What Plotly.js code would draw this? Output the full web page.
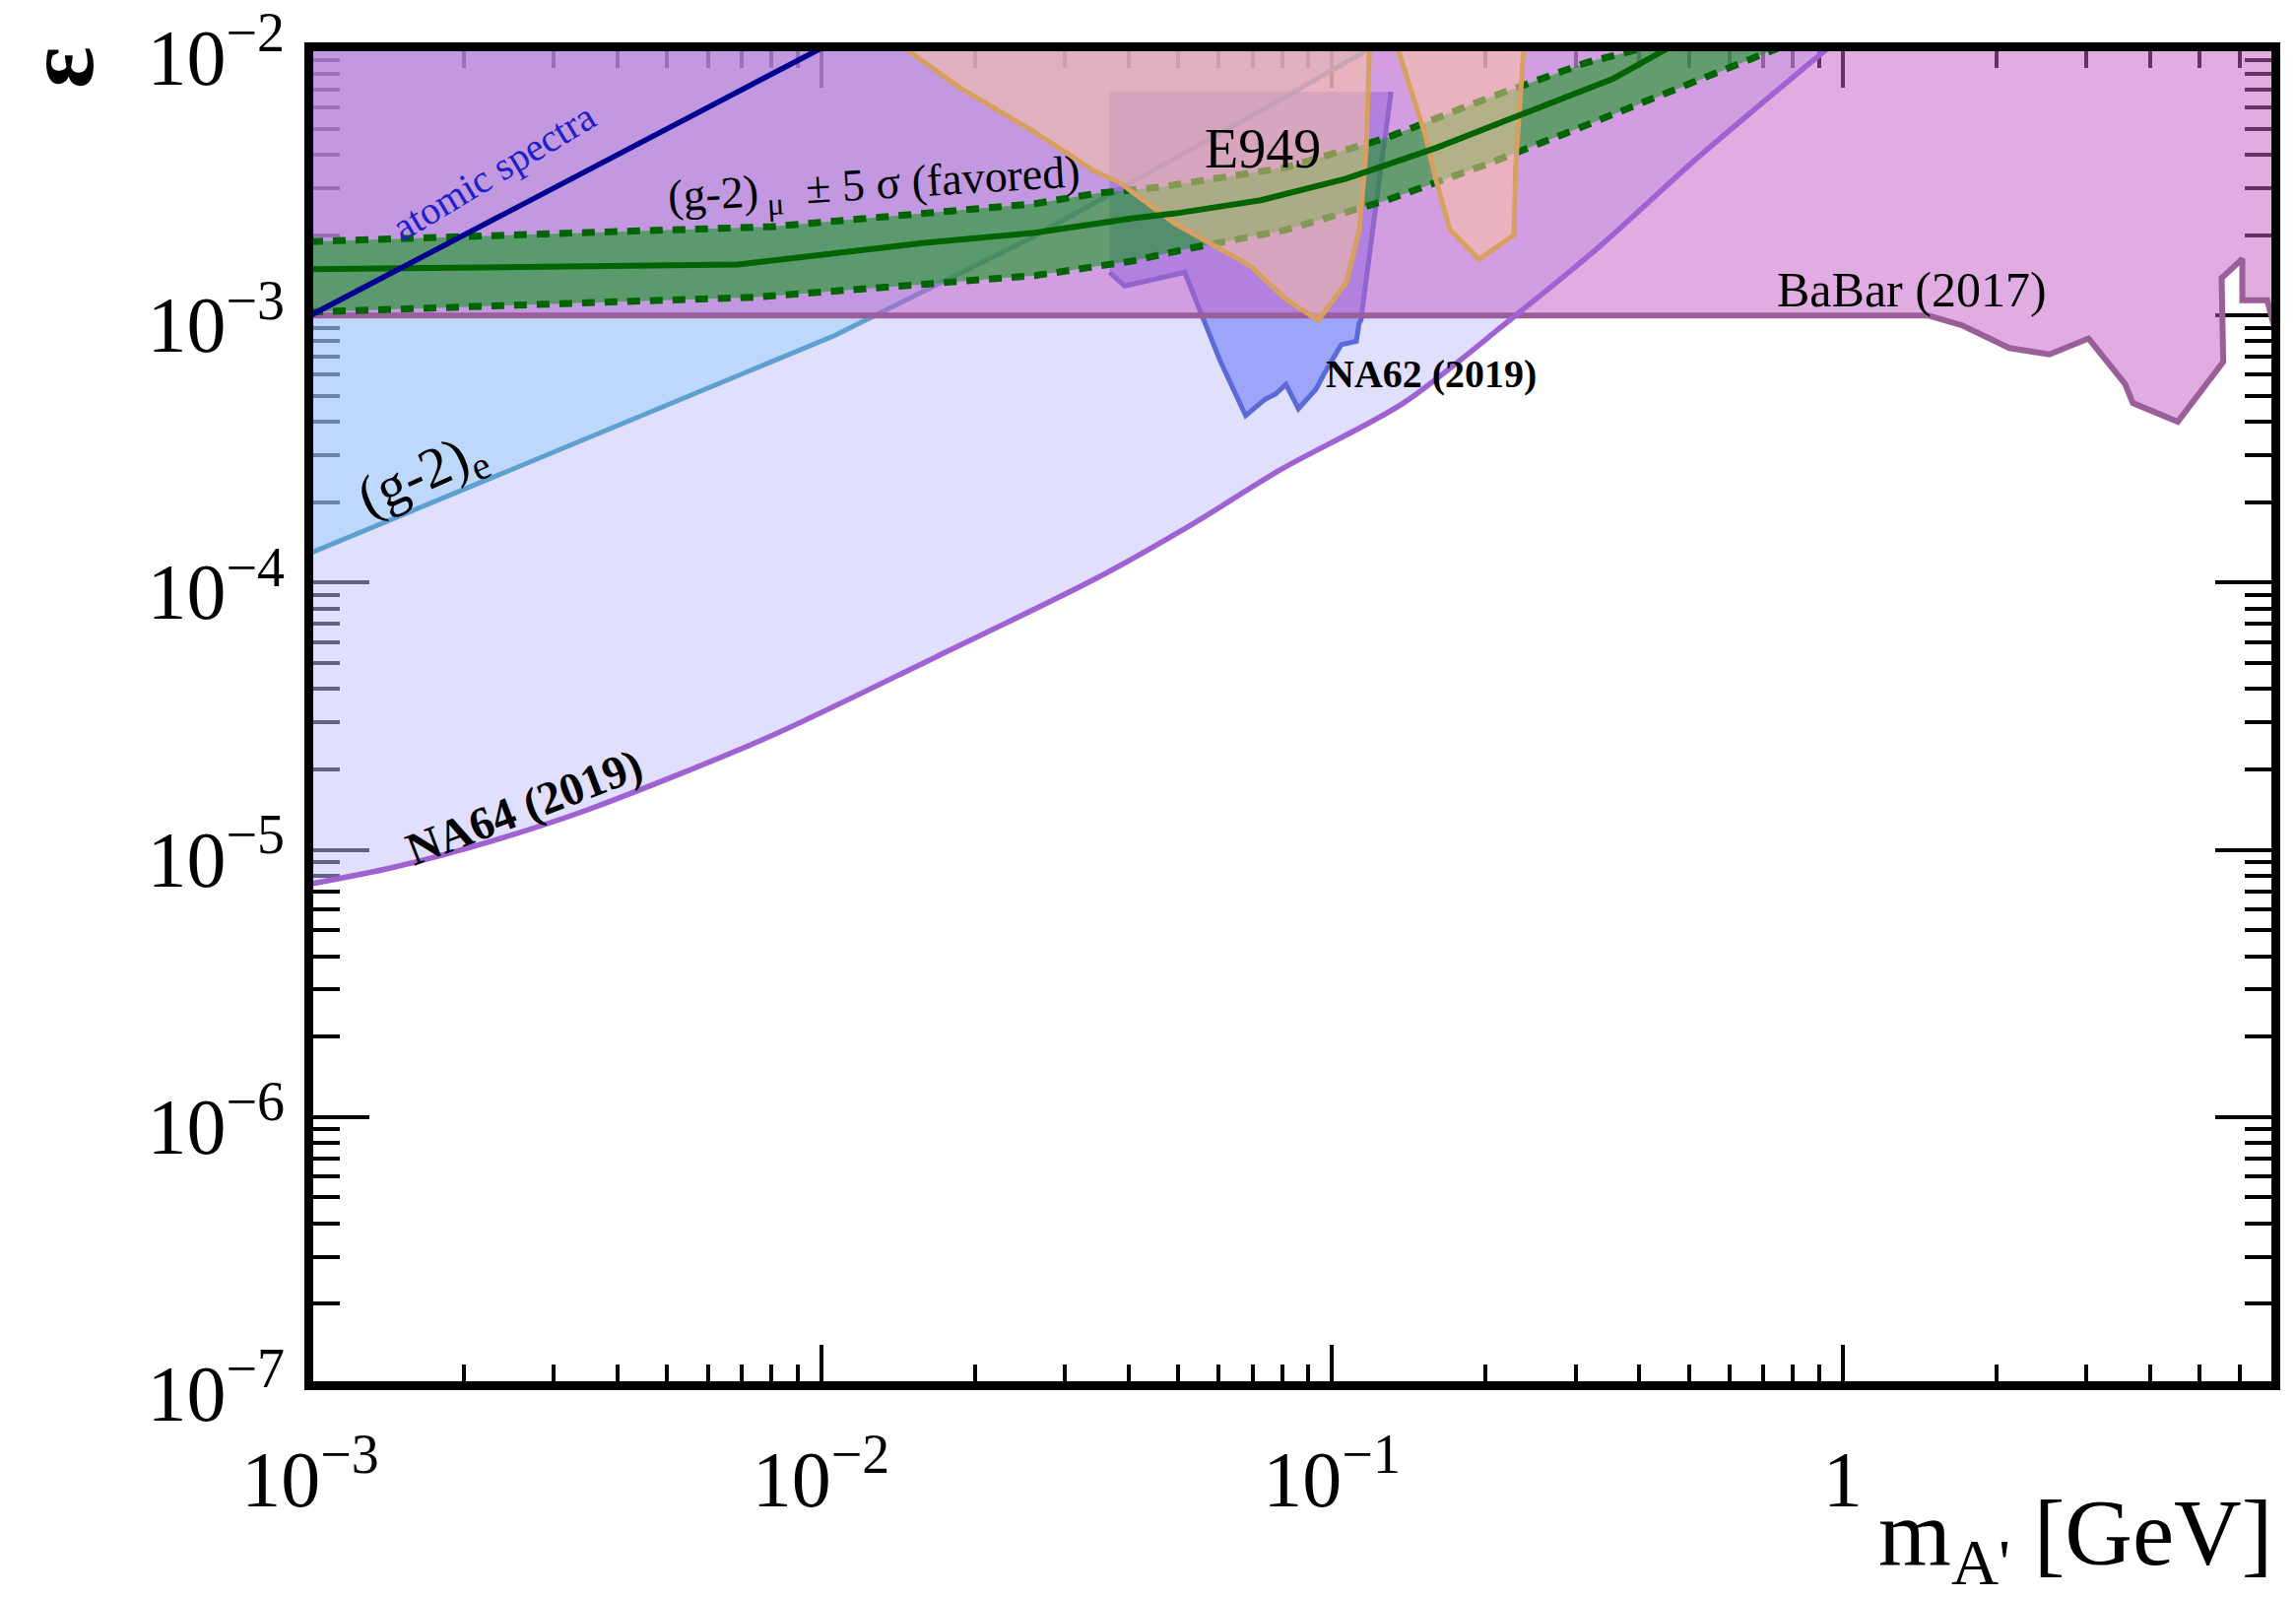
<!DOCTYPE html>
<html>
<head>
<meta charset="utf-8">
<script src="https://cdn.plot.ly/plotly-3.0.1.min.js"></script>
<style>html,body{margin:0;padding:0;background:#fff;}#chart{width:2331px;height:1622px;}</style>
</head>
<body>
<div id="chart"></div>
<script>
// ---------- axis limits ----------
const X_MIN = 1e-3, X_MAX = 7.0, Y_MIN = 1e-7, Y_MAX = 1e-2;

// ---------- NA64 (2019) lower limit ----------
const na64Mass = [0.001, 0.001457, 0.00227, 0.003554, 0.00788, 0.01653, 0.03464, 0.054, 0.0794, 0.1373, 0.2207, 0.334, 0.5205, 0.765, 0.935];
const na64Eps  = [7.45e-6, 8.61e-6, 1.08e-5, 1.43e-5, 2.64e-5, 5.2e-5, 1.04e-4, 1.68e-4, 2.65e-4, 4.67e-4, 9.46e-4, 1.81e-3, 3.9e-3, 7.27e-3, 1e-2];

// ---------- (g-2)_e ----------
const ge2Mass = [0.001, 0.01064, 0.0261, 0.076, 0.119];
const ge2Eps  = [1.29e-4, 8.42e-4, 1.975e-3, 6.13e-3, 1e-2];

// ---------- NA62 (2019) ----------
const na62Mass = [0.0367, 0.0367, 0.0393, 0.0515, 0.0553, 0.0605, 0.0678, 0.0709, 0.0742, 0.0776, 0.0813, 0.0860, 0.0931, 0.0964, 0.1043, 0.1117, 0.1130, 0.1140, 0.1167, 0.1250, 0.1306];
const na62Eps  = [6.87e-3, 1.45e-3, 1.29e-3, 1.45e-3, 1.03e-3, 6.73e-4, 4.22e-4, 4.54e-4, 4.87e-4, 5.08e-4, 5.52e-4, 4.48e-4, 5.3e-4, 6.02e-4, 7.77e-4, 8.0e-4, 9.3e-4, 9.6e-4, 1.37e-3, 3.69e-3, 6.87e-3];

// ---------- BaBar (2017) lower edge ----------
const babarMass = [0.001, 1.47, 1.71, 2.12, 2.54, 3.03, 3.57, 3.70, 4.53, 5.56, 5.52, 6.06, 6.06, 6.78, 7.0];
const babarEps  = [1e-3, 1e-3, 9.2e-4, 7.55e-4, 7.15e-4, 8.2e-4, 5.55e-4, 4.7e-4, 4.0e-4, 6.7e-4, 1.38e-3, 1.63e-3, 1.14e-3, 1.14e-3, 9.0e-4];

// ---------- E949 ----------
const e949aMass = [0.0146, 0.0186, 0.0261, 0.0342, 0.0385, 0.0493, 0.0693, 0.0813, 0.094, 0.1068, 0.1132, 0.1167, 0.1185];
const e949aEps  = [1e-2, 7.16e-3, 4.87e-3, 3.48e-3, 3.13e-3, 2.21e-3, 1.53e-3, 1.15e-3, 9.6e-4, 1.33e-3, 2.09e-3, 4.13e-3, 1e-2];
const e949bMass = [0.1345, 0.1523, 0.1593, 0.1703, 0.194, 0.2273, 0.2289, 0.234, 0.2375];
const e949bEps  = [1e-2, 4.75e-3, 3.29e-3, 2.09e-3, 1.625e-3, 2.0e-3, 3.58e-3, 6.3e-3, 1e-2];

// ---------- (g-2)_mu +- 5 sigma band ----------
const gmCenMass = [0.001, 0.00687, 0.01595, 0.0262, 0.0408, 0.0494, 0.0726, 0.1066, 0.160, 0.252, 0.355, 0.455];
const gmCenEps  = [1.49e-3, 1.55e-3, 1.87e-3, 2.04e-3, 2.31e-3, 2.41e-3, 2.70e-3, 3.25e-3, 4.24e-3, 5.96e-3, 7.69e-3, 1e-2];
const gmUpMass  = [0.001, 0.008, 0.0262, 0.0344, 0.046, 0.0813, 0.128, 0.201, 0.316, 0.406];
const gmUpEps   = [1.89e-3, 2.15e-3, 2.62e-3, 2.86e-3, 3.02e-3, 3.58e-3, 4.62e-3, 6.49e-3, 8.86e-3, 1e-2];
const gmLoMass  = [0.001, 0.00742, 0.0262, 0.0408, 0.0516, 0.0813, 0.128, 0.201, 0.316, 0.496, 0.746];
const gmLoEps   = [1.03e-3, 1.17e-3, 1.41e-3, 1.6e-3, 1.77e-3, 2.09e-3, 2.70e-3, 3.68e-3, 5.17e-3, 7.27e-3, 1e-2];

// ---------- atomic spectra ----------
const atomMass = [0.001, 0.01];
const atomEps  = [1e-3, 1e-2];

// ---------- tick labels ----------
const xTickVals = [1e-3, 1e-2, 1e-1, 1];
const xTickText = ['10<sup>−3</sup>', '10<sup>−2</sup>', '10<sup>−1</sup>', '1'];
const yTickVals = [1e-7, 1e-6, 1e-5, 1e-4, 1e-3, 1e-2];
const yTickText = ['10<sup>−7</sup>', '10<sup>−6</sup>', '10<sup>−5</sup>', '10<sup>−4</sup>', '10<sup>−3</sup>', '10<sup>−2</sup>'];

const FONT = 'Liberation Serif, Times New Roman, serif';

function fillTrace(xs, ys, color) {
  return {x: xs, y: ys, mode: 'lines', fill: 'toself', fillcolor: color,
          line: {width: 0, color: 'rgba(0,0,0,0)'}, hoverinfo: 'skip', showlegend: false};
}
function lineTrace(xs, ys, color, width, dash, shape) {
  return {x: xs, y: ys, mode: 'lines',
          line: {color: color, width: width, dash: dash || 'solid', shape: shape || 'linear', smoothing: 0.8},
          hoverinfo: 'skip', showlegend: false};
}

const traces = [];
// NA64 region (above the limit curve)
traces.push(fillTrace(na64Mass.concat([X_MIN]), na64Eps.concat([Y_MAX]), 'rgba(195,195,253,0.51)'));
// (g-2)_e region
traces.push(fillTrace(ge2Mass.concat([X_MIN]), ge2Eps.concat([Y_MAX]), 'rgba(121,200,250,0.33)'));
traces.push(lineTrace(ge2Mass, ge2Eps, '#5FA0D2', 5));
// NA62
traces.push(fillTrace(na62Mass, na62Eps, 'rgba(90,105,245,0.5)'));
traces.push(lineTrace(na62Mass.slice(1), na62Eps.slice(1), '#5A6AD8', 5));
// BaBar
traces.push(fillTrace(babarMass.concat([X_MAX, X_MIN]), babarEps.concat([Y_MAX, Y_MAX]), 'rgba(197,94,197,0.516)'));
traces.push(lineTrace(babarMass, babarEps, '#9A5E9A', 6));
// NA64 line
traces.push(lineTrace(na64Mass, na64Eps, '#A062D2', 5.5, 'solid', 'spline'));
// (g-2)_mu band
traces.push(fillTrace(gmUpMass.concat(gmLoMass.slice().reverse()), gmUpEps.concat(gmLoEps.slice().reverse()), 'rgba(10,153,18,0.55)'));
traces.push(lineTrace(gmUpMass, gmUpEps, '#006400', 7, '13px,10px'));
traces.push(lineTrace(gmLoMass, gmLoEps, '#006400', 7, '13px,10px'));
// E949
traces.push(fillTrace(e949aMass, e949aEps, 'rgba(252,198,159,0.527)'));
traces.push(fillTrace(e949bMass, e949bEps, 'rgba(252,198,159,0.527)'));
traces.push(lineTrace(e949aMass, e949aEps, '#D8A060', 5));
traces.push(lineTrace(e949bMass, e949bEps, '#D8A060', 5));
// band central value
traces.push(lineTrace(gmCenMass, gmCenEps, '#006400', 6));
// atomic spectra
traces.push(lineTrace(atomMass, atomEps, '#000090', 5.5));

const L = Math.log10;
const annotations = [
  {x: L(2.28e-3), y: L(3.46e-3), text: 'atomic spectra', textangle: -31, showarrow: false,
   font: {family: FONT, size: 40, color: '#2020C8'}},
  {x: L(0.0127), y: L(3.01e-3), text: '(g-2)<sub> μ</sub>  ± 5 σ (favored)', textangle: -3.5, showarrow: false,
   font: {family: FONT, size: 46, color: '#000'}},
  {x: L(0.0731), y: L(4.19e-3), text: 'E949', showarrow: false,
   font: {family: FONT, size: 56, color: '#000'}},
  {x: L(1.368), y: L(1.245e-3), text: 'BaBar (2017)', showarrow: false,
   font: {family: FONT, size: 50, color: '#000'}},
  {x: L(0.1568), y: L(6.03e-4), text: '<b>NA62 (2019)</b>', showarrow: false,
   font: {family: FONT, size: 40, color: '#000'}},
  {x: L(1.66e-3), y: L(2.50e-4), text: '(g-2)<sub>e</sub>', textangle: -24, showarrow: false,
   font: {family: FONT, size: 58, color: '#000'}},
  {x: L(2.62e-3), y: L(1.45e-5), text: '<b>NA64 (2019)</b>', textangle: -21, showarrow: false,
   font: {family: FONT, size: 47, color: '#000'}},
  {xref: 'paper', yref: 'paper', x: -0.1274, xanchor: 'center', y: 0.986, yanchor: 'middle',
   text: '<b>ε</b>', textangle: -90, showarrow: false,
   font: {family: FONT, size: 100, color: '#000'}},
  {xref: 'paper', yref: 'paper', x: 1.0, xanchor: 'right', y: -0.116, yanchor: 'middle',
   text: 'm<sub>A\'</sub> [GeV]', showarrow: false,
   font: {family: FONT, size: 95, color: '#000'}}
];

const axisCommon = {
  type: 'log', showgrid: false, zeroline: false, showline: true, linecolor: '#000', linewidth: 6,
  mirror: 'allticks', ticks: 'inside', tickcolor: '#000', tickwidth: 4,
  tickmode: 'array', layer: 'below traces', ticklabeloverflow: 'allow',
  tickfont: {family: FONT, size: 80, color: '#000'}
};

const layout = {
  width: 2331, height: 1622,
  margin: {l: 315, r: 22, t: 49, b: 217},
  paper_bgcolor: '#fff', plot_bgcolor: '#fff',
  showlegend: false,
  xaxis: Object.assign({}, axisCommon, {
    range: [L(X_MIN), L(X_MAX)], tickvals: xTickVals, ticktext: xTickText, ticklen: 40,
    ticklabelstandoff: 22,
    minor: {ticks: 'inside', ticklen: 20, tickwidth: 4, tickcolor: '#000', dtick: 'D1', showgrid: false}
  }),
  yaxis: Object.assign({}, axisCommon, {
    range: [L(Y_MIN), L(Y_MAX)], tickvals: yTickVals, ticktext: yTickText, ticklen: 60,
    ticklabelstandoff: 4, ticklabelshift: 9,
    minor: {ticks: 'inside', ticklen: 30, tickwidth: 4, tickcolor: '#000', dtick: 'D1', showgrid: false}
  }),
  annotations: annotations,
  shapes: [{type: 'rect', xref: 'paper', yref: 'paper', x0: 0, x1: 1, y0: 0, y1: 1,
            line: {color: '#000', width: 6}, fillcolor: 'rgba(0,0,0,0)', layer: 'above'}]
};

Plotly.newPlot('chart', traces, layout, {staticPlot: true, displayModeBar: false});
</script>
</body>
</html>
